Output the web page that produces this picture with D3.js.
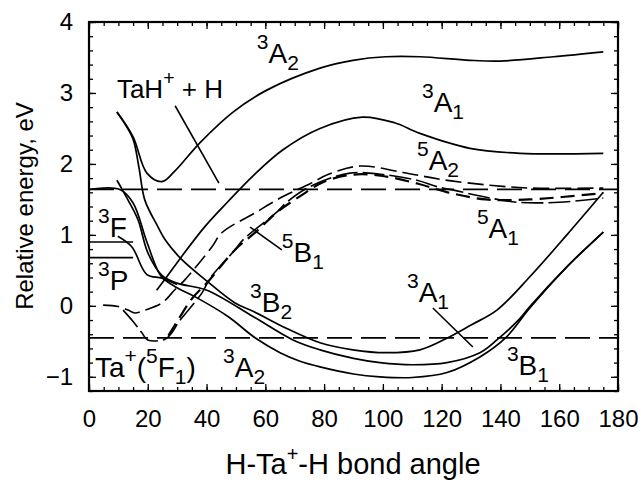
<!DOCTYPE html>
<html>
<head>
<meta charset="utf-8">
<script src="https://cdn.jsdelivr.net/npm/d3@7"></script>
<style>
body { margin: 0; background: #fff; }
text { font-family: "Liberation Sans", Arial, sans-serif; fill: #000; }
</style>
</head>
<body>
<svg id="chart" width="641" height="483"></svg>
<script>
// energy curves, [angle, eV]
var tripletA2up = [[9.5,2.73],[15,2.38],[19.7,1.87],[24.8,1.75],[29,1.89],[37.8,2.3],[49,2.73],[60.5,3.04],[78.6,3.35],[89.8,3.46],[101,3.51],[112.6,3.51],[129.6,3.46],[140,3.45],[158,3.51],[175,3.58]];
var tripletA1up = [[23,0.22],[26.5,0.41],[31.6,0.7],[39.5,1.12],[47.3,1.47],[56,1.84],[66,2.2],[78.6,2.5],[93,2.66],[104,2.58],[112.6,2.43],[129.6,2.22],[146.6,2.15],[175,2.15]];
var tripletA1low = [[9.5,2.73],[12,2.58],[15,2.35],[17,1.95],[19,1.49],[23.5,1.11],[25.9,0.93],[31.6,0.65],[39.5,0.37],[49.7,0.04],[56,-0.08],[67.3,-0.32],[78.6,-0.52],[89.8,-0.62],[101,-0.66],[112.6,-0.62],[121.6,-0.46],[130,-0.27],[138.8,-0.06],[150,0.41],[162.6,1.0],[175,1.6]];
var tripletB2 = [[9.5,1.77],[13.3,1.49],[16.7,1.21],[20,0.75],[24.8,0.43],[30,0.32],[40.1,0.22],[55.8,-0.15],[69.4,-0.48],[78.6,-0.62],[90,-0.74],[99,-0.8],[110,-0.83],[121.8,-0.8],[133,-0.66],[138.8,-0.48],[146.6,-0.18],[150,-0.01],[162.6,0.55],[175,1.04]];
var tripletB1 = [[0,1.64],[10.5,1.64],[15,1.45],[19.7,0.9],[24.5,0.42],[29.3,0.27],[36,0.13],[47.3,-0.15],[56.5,-0.45],[65,-0.66],[71.8,-0.78],[78.6,-0.86],[90,-0.96],[99,-1.0],[110,-1.01],[121.8,-0.94],[133,-0.72],[142,-0.44],[150,-0.03],[162.6,0.55],[175,1.04]];
var tripletF = [[9.8,0.98],[14.6,0.83],[19.7,0.44],[24.8,0.39],[30,0.3]];
var levelF = [[0,0.9],[15,0.9]];
var levelP = [[0,0.68],[15,0.68]];
var quintetA2 = [[4.8,0.01],[9.9,-0.01],[13.3,-0.06],[15.6,-0.1],[19,-0.06],[24.8,0.04],[29.3,0.23],[32.7,0.37],[41.8,0.83],[45.2,1.03],[56.5,1.31],[66,1.54],[75.2,1.72],[81.3,1.85],[92.2,1.97],[106.8,1.88],[120,1.78],[136.4,1.7],[150,1.66],[175,1.66]];
var quintetB1 = [[11.6,-0.06],[15,-0.22],[18,-0.38],[20,-0.48],[25.9,-0.47],[28.2,-0.38],[30.3,-0.24],[38.4,0.18],[41.2,0.39],[49.7,0.79],[52.4,0.93],[63.9,1.32],[67.3,1.46],[75.2,1.68],[88.8,1.87],[100,1.85],[111.6,1.77],[118.4,1.68],[125.2,1.62],[134,1.54],[145.6,1.46],[160,1.46],[175,1.52]];
var quintetA1 = [[27,-0.42],[30.3,-0.2],[35,0.1],[40.5,0.34],[49.7,0.79],[57,1.05],[64,1.32],[72,1.55],[80,1.75],[90,1.85],[100,1.83],[112,1.72],[122,1.6],[135,1.5],[150,1.5],[175,1.59]];
// asymptotes
var asymptotes = [1.64, -0.45];
// pointer lines
var pointers = [[[29.3,2.82],[44.2,1.73]], [[54.8,1.11],[65.6,0.79]], [[117,-0.03],[130.6,-0.58]]];
// labels: parts, angle, eV (baseline, left)
var labels = [
  {p:[["3","sup"],["A",""],["2","sub"]], u:57.1, v:3.42},
  {p:[["TaH",""],["+","sup"],[" + H",""]], u:9.5, v:2.93, s:26},
  {p:[["3","sup"],["A",""],["1","sub"]], u:113.3, v:2.73},
  {p:[["5","sup"],["A",""],["2","sub"]], u:111.6, v:1.92},
  {p:[["5","sup"],["A",""],["1","sub"]], u:132, v:0.96},
  {p:[["5","sup"],["B",""],["1","sub"]], u:65.6, v:0.62},
  {p:[["3","sup"],["B",""],["2","sub"]], u:54.8, v:-0.08},
  {p:[["3","sup"],["F",""]], u:3.1, v:0.97},
  {p:[["3","sup"],["P",""]], u:3.1, v:0.23},
  {p:[["Ta",""],["+","sup"],["(",""],["5","sup"],["F",""],["1","sub"],[")",""]], u:2.0, v:-1.0},
  {p:[["3","sup"],["A",""],["2","sub"]], u:45.6, v:-1.0},
  {p:[["3","sup"],["A",""],["1","sub"]], u:108.2, v:0.06},
  {p:[["3","sup"],["B",""],["1","sub"]], u:142.2, v:-0.97}
];
var xTicks = d3.range(0, 181, 20);

var svg = d3.select('#chart');
var x = d3.scaleLinear().domain([0,180]).range([89,618]);
var y = d3.scaleLinear().domain([-1.2,4]).range([391,22]);

var line = d3.line()
	.x(function(d){ return x(d[0]); })
	.y(function(d){ return y(d[1]); })
	.curve(d3.curveCatmullRom.alpha(0.5));

// axes, ticks pointing in
var minorX = d3.range(0, 181, 5), minorY = d3.range(-12, 41, 2).map(function(d){ return d/10; });
svg.append('g').attr('transform','translate(0,391)')
	.call(d3.axisBottom(x).tickValues(minorX).tickSize(-4).tickFormat(''));
svg.append('g').attr('transform','translate(0,22)')
	.call(d3.axisTop(x).tickValues(minorX).tickSize(-4).tickFormat(''));
svg.append('g').attr('transform','translate(89,0)')
	.call(d3.axisLeft(y).tickValues(minorY).tickSize(-4).tickFormat(''));
svg.append('g').attr('transform','translate(618,0)')
	.call(d3.axisRight(y).tickValues(minorY).tickSize(-4).tickFormat(''));

svg.append('g').attr('class','xax').attr('transform','translate(0,391)')
	.call(d3.axisBottom(x).tickValues(xTicks).tickSize(-7).tickPadding(19).tickFormat(d3.format('d')));
svg.append('g').attr('class','yax').attr('transform','translate(89,0)')
	.call(d3.axisLeft(y).tickValues([-1,0,1,2,3,4]).tickSize(-7).tickPadding(16).tickFormat(d3.format('d')));
svg.append('g').attr('transform','translate(0,22)')
	.call(d3.axisTop(x).tickValues(xTicks).tickSize(-7).tickFormat(''));
svg.append('g').attr('transform','translate(618,0)')
	.call(d3.axisRight(y).tickValues([-1,0,1,2,3,4]).tickSize(-7).tickFormat(''));

svg.selectAll('.domain').remove();
svg.selectAll('.tick line').attr('stroke','#000').attr('stroke-width',1.3);
svg.selectAll('.xax text, .yax text').style('font-size','24px')
	.style('font-family','"Liberation Sans", Arial, sans-serif').attr('fill','#000');

svg.append('rect').attr('x',89).attr('y',22).attr('width',618-89).attr('height',391-22)
	.attr('fill','none').attr('stroke','#000').attr('stroke-width',2.2);

// dashed asymptotes
svg.selectAll('.asym').data(asymptotes).enter().append('line')
	.attr('x1', x(0)).attr('x2', x(180))
	.attr('y1', function(d){ return y(d); }).attr('y2', function(d){ return y(d); })
	.attr('stroke','#000').attr('stroke-width',1.8).attr('stroke-dasharray','25,9');

var solids = [tripletA2up, tripletA1up, tripletA1low, tripletB2, tripletB1, tripletF, levelF, levelP];
svg.selectAll('.solid').data(solids).enter().append('path')
	.attr('d', line).attr('fill','none').attr('stroke','#000').attr('stroke-width',1.7);

var dashed = [
	{d: quintetA2, dash: '16,6', w: 1.6},
	{d: quintetB1, dash: '22,5', w: 1.6},
	{d: quintetA1, dash: '14,7', w: 2.2}
];
svg.selectAll('.dash').data(dashed).enter().append('path')
	.attr('d', function(d){ return line(d.d); }).attr('fill','none').attr('stroke','#000')
	.attr('stroke-width', function(d){ return d.w; }).attr('stroke-dasharray', function(d){ return d.dash; });

svg.selectAll('.ptr').data(pointers).enter().append('line')
	.attr('x1', function(d){ return x(d[0][0]); }).attr('y1', function(d){ return y(d[0][1]); })
	.attr('x2', function(d){ return x(d[1][0]); }).attr('y2', function(d){ return y(d[1][1]); })
	.attr('stroke','#000').attr('stroke-width',1.6);

// labels with super/subscripts
labels.forEach(function(l){
	var size = l.s || 28;
	var t = svg.append('text').attr('x', x(l.u)).attr('y', y(l.v)).style('font-size', size+'px');
	var off = 0;
	l.p.forEach(function(p){
		var target = p[1]=='sup' ? -0.5*size : (p[1]=='sub' ? 0.25*size : 0);
		t.append('tspan').text(p[0])
			.attr('dy', target - off)
			.style('font-size', (p[1] ? size*0.75 : size)+'px')
			.style('white-space','pre');
		off = target;
	});
});

// axis titles
var xt = svg.append('text').attr('x',353).attr('y',474).attr('text-anchor','middle').style('font-size','29px');
xt.append('tspan').text('H-Ta');
xt.append('tspan').text('+').attr('dy',-13).style('font-size','20px');
xt.append('tspan').text('-H bond angle').attr('dy',13);

svg.append('text').attr('transform','translate(33,206) rotate(-90)').attr('text-anchor','middle')
	.style('font-size','24px').text('Relative energy, eV');
</script>
</body>
</html>
